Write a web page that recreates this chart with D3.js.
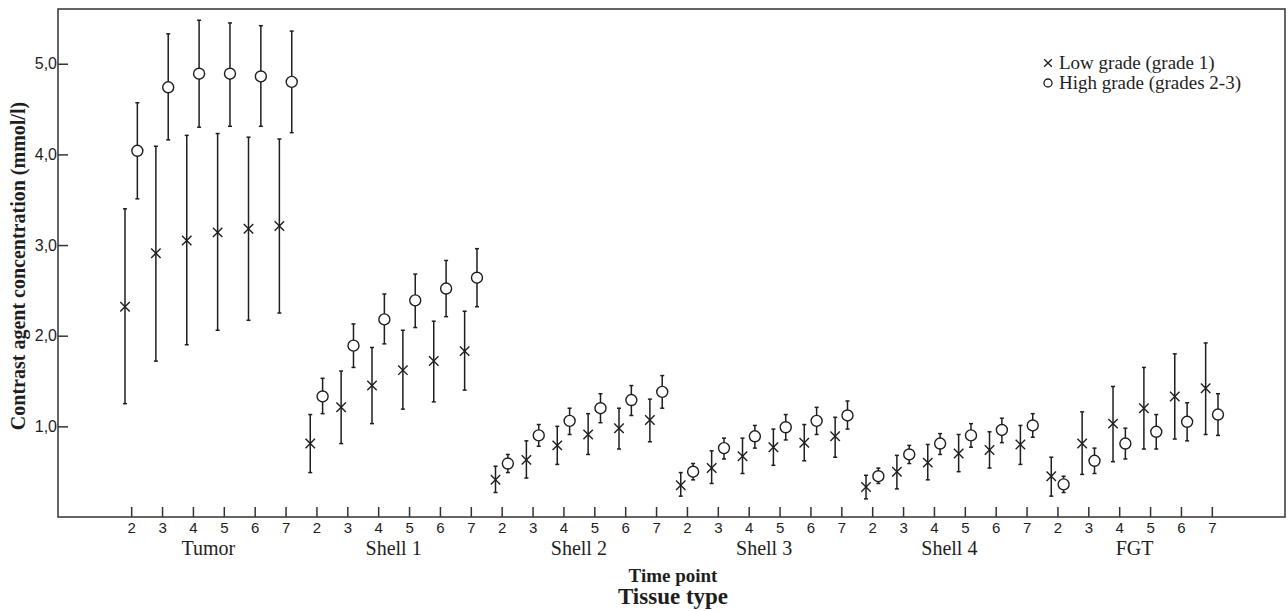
<!DOCTYPE html>
<html>
<head>
<meta charset="utf-8">
<script src="https://cdn.jsdelivr.net/npm/d3@7"></script>
<style>
  body { margin: 0; background: #fff; }
  svg { display: block; }
</style>
</head>
<body>
<script>
// chart data
var tissues = ["Tumor", "Shell 1", "Shell 2", "Shell 3", "Shell 4", "FGT"];
var timePoints = [2, 3, 4, 5, 6, 7];
var yTicks = [1, 2, 3, 4, 5];

// low grade (grade 1): mean, lower, upper per tissue
var lowMean = [
  [2.32, 2.91, 3.05, 3.14, 3.18, 3.21],
  [0.81, 1.21, 1.45, 1.62, 1.72, 1.83],
  [0.41, 0.63, 0.79, 0.91, 0.98, 1.07],
  [0.35, 0.54, 0.67, 0.77, 0.82, 0.89],
  [0.33, 0.50, 0.60, 0.70, 0.74, 0.80],
  [0.45, 0.81, 1.03, 1.20, 1.33, 1.42]
];
var lowLower = [
  [1.25, 1.72, 1.90, 2.06, 2.17, 2.25],
  [0.49, 0.81, 1.03, 1.19, 1.27, 1.40],
  [0.27, 0.43, 0.58, 0.69, 0.75, 0.83],
  [0.23, 0.37, 0.48, 0.57, 0.62, 0.66],
  [0.20, 0.31, 0.41, 0.50, 0.54, 0.58],
  [0.23, 0.47, 0.61, 0.75, 0.86, 0.91]
];
var lowUpper = [
  [3.40, 4.09, 4.21, 4.23, 4.19, 4.17],
  [1.13, 1.61, 1.87, 2.06, 2.16, 2.27],
  [0.56, 0.84, 1.00, 1.14, 1.20, 1.30],
  [0.49, 0.73, 0.87, 0.97, 1.02, 1.10],
  [0.46, 0.68, 0.80, 0.91, 0.94, 1.01],
  [0.66, 1.16, 1.44, 1.65, 1.80, 1.92]
];

// high grade (grades 2-3)
var highMean = [
  [4.04, 4.74, 4.89, 4.89, 4.86, 4.80],
  [1.33, 1.89, 2.18, 2.39, 2.52, 2.64],
  [0.59, 0.90, 1.06, 1.20, 1.29, 1.38],
  [0.50, 0.76, 0.89, 0.99, 1.06, 1.12],
  [0.45, 0.69, 0.81, 0.90, 0.96, 1.01],
  [0.36, 0.62, 0.81, 0.94, 1.05, 1.13]
];
var highLower = [
  [3.51, 4.16, 4.30, 4.31, 4.31, 4.24],
  [1.14, 1.65, 1.91, 2.09, 2.21, 2.32],
  [0.49, 0.78, 0.91, 1.04, 1.12, 1.20],
  [0.41, 0.64, 0.76, 0.85, 0.91, 0.97],
  [0.37, 0.59, 0.69, 0.77, 0.82, 0.88],
  [0.27, 0.48, 0.64, 0.75, 0.84, 0.90]
];
var highUpper = [
  [4.57, 5.33, 5.48, 5.45, 5.42, 5.36],
  [1.53, 2.13, 2.46, 2.68, 2.83, 2.96],
  [0.69, 1.02, 1.20, 1.36, 1.45, 1.56],
  [0.59, 0.87, 1.01, 1.13, 1.21, 1.28],
  [0.54, 0.79, 0.92, 1.03, 1.09, 1.14],
  [0.45, 0.76, 0.98, 1.13, 1.26, 1.36]
];

var legendLabels = ["Low grade (grade 1)", "High grade (grades 2-3)"];

var w = 1288, h = 611;
var mLeft = 58, mRight = 1285, mTop = 9, mBottom = 517;
var ink = "#1e1e1e";
var serif = "Liberation Serif, Times New Roman, serif";
var sans = "Liberation Sans, Arial, sans-serif";

var svg = d3.select("body").append("svg")
  .attr("width", w)
  .attr("height", h);

// build rows from the arrays
var keys = [];
var rows = [];
tissues.forEach(function(t, ti){
  timePoints.forEach(function(tp, pi){
    var k = t + "|" + tp;
    keys.push(k);
    rows.push({key: k, group: "low", mean: lowMean[ti][pi], lo: lowLower[ti][pi], hi: lowUpper[ti][pi]});
    rows.push({key: k, group: "high", mean: highMean[ti][pi], lo: highLower[ti][pi], hi: highUpper[ti][pi]});
  });
});

var x = d3.scalePoint()
  .domain(keys)
  .range([mLeft, mRight])
  .padding(2.37);

var y = d3.scaleLinear()
  .domain([0, (mBottom - mTop) / 90.65])
  .range([mBottom, mTop]);

var off = x.step() * 0.2;
function cx(d){ return x(d.key) + (d.group == "low" ? -off : off); }

// frame
svg.append("rect")
  .attr("x", mLeft)
  .attr("y", mTop)
  .attr("width", mRight - mLeft)
  .attr("height", mBottom - mTop)
  .attr("fill", "none")
  .attr("stroke", "#333")
  .attr("stroke-width", 1.5);

// y axis, ticks pointing inside
var yAxis = svg.append("g")
  .attr("transform", "translate(" + mLeft + ",0)")
  .call(d3.axisRight(y).tickValues(yTicks).tickSize(10).tickFormat(function(d){ return d3.format(".1f")(d).replace(".", ","); }));
yAxis.select(".domain").remove();
yAxis.selectAll("line").attr("stroke", "#333").attr("stroke-width", 1.5);
yAxis.selectAll("text")
  .attr("x", -1)
  .attr("text-anchor", "end")
  .attr("font-family", sans)
  .attr("font-size", 16)
  .attr("fill", ink);

// x axis, ticks pointing up
var xAxis = svg.append("g")
  .attr("transform", "translate(0," + mBottom + ")")
  .call(d3.axisTop(x).tickSize(10).tickFormat(function(d){ return d.split("|")[1]; }));
xAxis.select(".domain").remove();
xAxis.selectAll("line").attr("stroke", "#333").attr("stroke-width", 1.5);
xAxis.selectAll("text")
  .attr("y", 16)
  .attr("dy", 0)
  .attr("text-anchor", "middle")
  .attr("font-family", sans)
  .attr("font-size", 15)
  .attr("fill", ink);

// tissue names under each group of ticks
svg.selectAll(".tissue")
  .data(tissues)
  .enter()
  .append("text")
  .attr("class", "tissue")
  .attr("x", function(t){ return (x(t + "|2") + x(t + "|7")) / 2; })
  .attr("y", 555)
  .attr("text-anchor", "middle")
  .attr("font-family", serif)
  .attr("font-size", 20)
  .attr("fill", ink)
  .text(function(t){ return t; });

// axis titles
svg.append("text")
  .attr("x", 673)
  .attr("y", 582)
  .attr("text-anchor", "middle")
  .attr("font-family", serif)
  .attr("font-weight", "bold")
  .attr("font-size", 19)
  .attr("fill", ink)
  .text("Time point");

svg.append("text")
  .attr("x", 673)
  .attr("y", 604)
  .attr("text-anchor", "middle")
  .attr("font-family", serif)
  .attr("font-weight", "bold")
  .attr("font-size", 23)
  .attr("fill", ink)
  .text("Tissue type");

svg.append("text")
  .attr("transform", "translate(25," + ((mTop + mBottom) / 2 + 3) + ") rotate(-90)")
  .attr("text-anchor", "middle")
  .attr("font-family", serif)
  .attr("font-weight", "bold")
  .attr("font-size", 20)
  .attr("fill", ink)
  .text("Contrast agent concentration (mmol/l)");

// error bars
var bars = svg.selectAll(".bar")
  .data(rows)
  .enter()
  .append("g")
  .attr("class", "bar")
  .attr("stroke", ink)
  .attr("stroke-width", 1.5);

bars.append("line")
  .attr("x1", cx).attr("x2", cx)
  .attr("y1", function(d){ return y(d.lo); })
  .attr("y2", function(d){ return y(d.hi); });
bars.append("line")
  .attr("x1", function(d){ return cx(d) - 2; }).attr("x2", function(d){ return cx(d) + 2; })
  .attr("y1", function(d){ return y(d.lo); })
  .attr("y2", function(d){ return y(d.lo); });
bars.append("line")
  .attr("x1", function(d){ return cx(d) - 2; }).attr("x2", function(d){ return cx(d) + 2; })
  .attr("y1", function(d){ return y(d.hi); })
  .attr("y2", function(d){ return y(d.hi); });

// markers
var crossSym = d3.symbol().type(d3.symbolX).size(60);
svg.selectAll(".low")
  .data(rows.filter(function(d){ return d.group == "low"; }))
  .enter()
  .append("path")
  .attr("class", "low")
  .attr("d", crossSym)
  .attr("transform", function(d){ return "translate(" + cx(d) + "," + y(d.mean) + ")"; })
  .attr("fill", "none")
  .attr("stroke", ink)
  .attr("stroke-width", 1.4);

svg.selectAll(".high")
  .data(rows.filter(function(d){ return d.group == "high"; }))
  .enter()
  .append("circle")
  .attr("class", "high")
  .attr("cx", cx)
  .attr("cy", function(d){ return y(d.mean); })
  .attr("r", 5.5)
  .attr("fill", "#fff")
  .attr("stroke", ink)
  .attr("stroke-width", 1.4);

// legend
var legend = svg.append("g").attr("transform", "translate(1048,63)");
legend.append("path")
  .attr("d", d3.symbol().type(d3.symbolX).size(40))
  .attr("fill", "none").attr("stroke", ink).attr("stroke-width", 1.3);
legend.append("circle")
  .attr("cy", 20).attr("r", 4)
  .attr("fill", "none").attr("stroke", ink).attr("stroke-width", 1.3);
legend.selectAll("text")
  .data(legendLabels)
  .enter()
  .append("text")
  .attr("x", 11)
  .attr("y", function(d, i){ return 6 + i * 20; })
  .attr("font-family", serif)
  .attr("font-size", 19)
  .attr("fill", ink)
  .text(function(d){ return d; });
</script>
</body>
</html>
